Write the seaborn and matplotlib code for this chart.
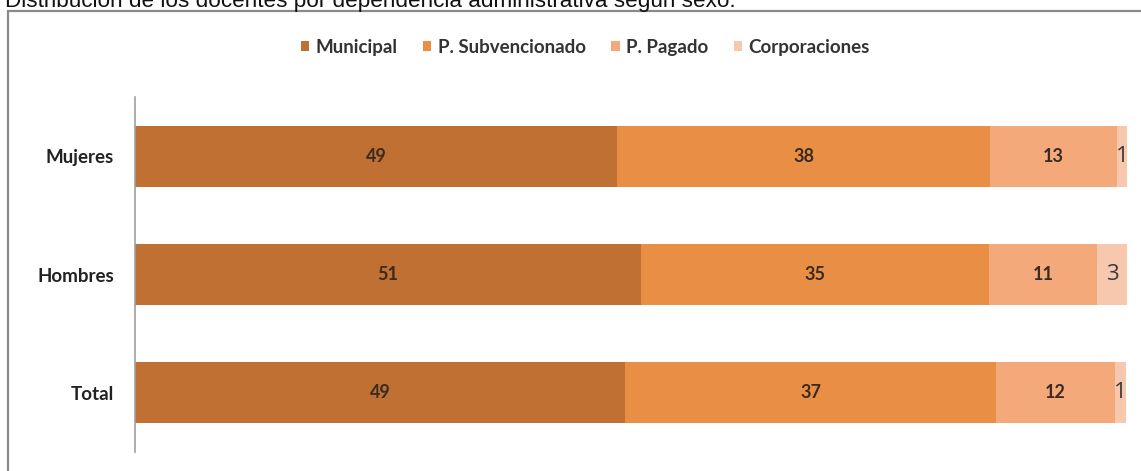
import seaborn as sns
import pandas as pd
import matplotlib.pyplot as plt
from matplotlib.patches import Rectangle

# share of teachers (%) by administrative dependency
grupos = ['Mujeres', 'Hombres', 'Total']
dependencias = ['Municipal', 'P. Subvencionado', 'P. Pagado', 'Corporaciones']
municipal = [48.6, 51.0, 49.4]
subvencionado = [37.6, 35.1, 37.4]
pagado = [12.8, 10.9, 12.0]
corporaciones = [1.0, 3.0, 1.1]
colores = ['#C07032', '#E98F45', '#F4A97A', '#F8C8AE']

df = pd.DataFrame({'grupo': grupos, 'Municipal': municipal,
                   'P. Subvencionado': subvencionado, 'P. Pagado': pagado,
                   'Corporaciones': corporaciones})

sns.set_theme(style='white')
plt.rcParams['font.family'] = ['Lato', 'DejaVu Sans']

fig = plt.figure(figsize=(11.41, 4.71), dpi=100)
ax = fig.add_axes([0.1183, 0.0403, 0.8694, 0.7537])

# stacked bars: draw cumulative totals from the longest down
cum = df[dependencias].cumsum(axis=1)
for dep, col in reversed(list(zip(dependencias, colores))):
    sns.barplot(x=cum[dep], y=df['grupo'], color=col, orient='h', width=0.515,
                saturation=1, linewidth=0, ax=ax, label=dep)
if ax.get_legend() is not None:
    ax.get_legend().remove()

# value labels in the middle of each segment
for i, g in enumerate(grupos):
    start = 0
    for dep in dependencias:
        v = df.loc[i, dep]
        mid = start + v / 2
        if dep == 'Corporaciones':
            ax.text(mid, i, f'{v:.0f}', ha='center', va='center',
                    fontsize=16, color='#3a3a3a', family=['Open Sans', 'DejaVu Sans'])
        else:
            ax.text(mid, i, f'{v:.0f}', ha='center', va='center',
                    fontsize=13, fontweight='bold', color='#3a2a20')
        start += v

ax.set_xlim(0, 100)
ax.set_ylim(2.5, -0.5)
ax.set_xlabel('')
ax.set_ylabel('')
ax.set_xticks([])
ax.tick_params(axis='y', length=0, pad=15)
for lab in ax.get_yticklabels():
    lab.set_fontsize(13.5)
    lab.set_fontweight('bold')
    lab.set_color('#222222')
for s in ['top', 'right', 'bottom']:
    ax.spines[s].set_visible(False)
ax.spines['left'].set_color('#a0a0a0')
ax.spines['left'].set_linewidth(1.2)

handles, labels = ax.get_legend_handles_labels()
order = [labels.index(d) for d in dependencias]
leg = fig.legend([handles[k] for k in order], dependencias, loc='center',
                 bbox_to_anchor=(0.513, 0.900), ncol=4, frameon=False,
                 handlelength=0.45, handleheight=0.45, handletextpad=0.35,
                 columnspacing=1.35, prop={'size': 13.5, 'weight': 'bold'})
for t in leg.get_texts():
    t.set_color('#333333')

# outer frame of the chart area (partly cut by the image edge)
fig.patches.append(Rectangle((8 / 1141, -0.05), 1.1, 1 - 11 / 471 + 0.05,
                             transform=fig.transFigure, fill=False,
                             edgecolor='#8a8a8a', linewidth=1.6))

fig.text(5 / 1141, 1 - 7 / 471,
         'Distribución de los docentes por dependencia administrativa según sexo.',
         ha='left', va='baseline', fontsize=16.2, color='#111111',
         family=['Liberation Sans', 'DejaVu Sans'])

fig.savefig('out.png', dpi=100)
